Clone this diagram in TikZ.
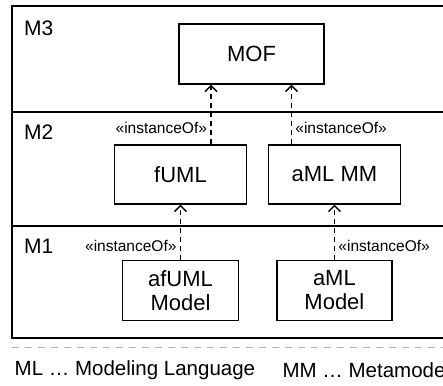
\documentclass[tikz,border=0pt]{standalone}
\usepackage{fontspec}
\setmainfont{Liberation Sans}
\usepackage{tikz}
\usetikzlibrary{
    arrows.meta,
    positioning
}
\tikzstyle{metaclass}=[
    rectangle,
    draw=black,
    line width=1.3pt,
    align=center,
    inner sep=0pt,
    font=\fontsize{22}{24}\selectfont
]
\tikzstyle{instance}=[line width=1.4pt,dash pattern=on 5pt off 4pt,
    -{Straight Barb[length=6pt,width=12pt]}]

\begin{document}
\begin{tikzpicture}[
    x=1pt,y=-1pt,
    layer/.style={anchor=west,inner sep=0pt,font=\fontsize{21}{23}\selectfont},
    stereo/.style={font=\fontsize{15.5}{17}\selectfont},
    legend/.style={inner sep=0pt,font=\fontsize{20.5}{22}\selectfont}
]
\useasboundingbox (0,0) rectangle (443,385);
\clip (0,0) rectangle (443,385);
% metalevels
\draw[line width=2pt] (12,6.5) rectangle (470,338);
\draw[line width=1.7pt] (12,112) -- (470,112);
\draw[line width=1.7pt] (12,226) -- (470,226);
\draw[black!30,line width=1pt,dash pattern=on 7pt off 6pt] (12,347) -- (470,347);
\node[layer] (m3) at (24,28) {M3};
\node[layer] (m2) at (24,132) {M2};
\node[layer] (m1) at (24,246) {M1};
% models
\node[metaclass,minimum width=145pt,minimum height=60pt] (mof) at (251.5,54) {MOF};
\node[metaclass,minimum width=132pt,minimum height=59pt] (fuml) at (180.5,174.5) {fUML};
\node[metaclass,minimum width=132pt,minimum height=59pt,right=20.6pt of fuml] (amlmm) {aML MM};
\node[metaclass,minimum width=116pt,minimum height=60pt,below=55pt of fuml] (afuml) {afUML\\Model};
\node[metaclass,minimum width=115pt,minimum height=60pt,below=55pt of amlmm] (amlmodel) {aML\\Model};
% instanceOf
\draw[instance] ([xshift=30.5pt]fuml.north) --
node[stereo,pos=0.28,left]{«instanceOf»} ([xshift=30.5pt]fuml.north |- mof.south);
\draw[instance] ([xshift=-43pt]amlmm.north) --
node[stereo,pos=0.28,right]{«instanceOf»} ([xshift=-43pt]amlmm.north |- mof.south);
\draw[instance] (afuml.north) --
node[stereo,pos=0.24,left]{«instanceOf»} (fuml.south);
\draw[instance] (amlmodel.north) --
node[stereo,pos=0.24,right]{«instanceOf»} (amlmm.south);
% legend
\node[legend,anchor=west] (ml) at (14.5,370) {ML … Modeling Language};
\node[legend,right=27pt of ml] (mm) {MM … Metamodel};
\end{tikzpicture}
\end{document}
